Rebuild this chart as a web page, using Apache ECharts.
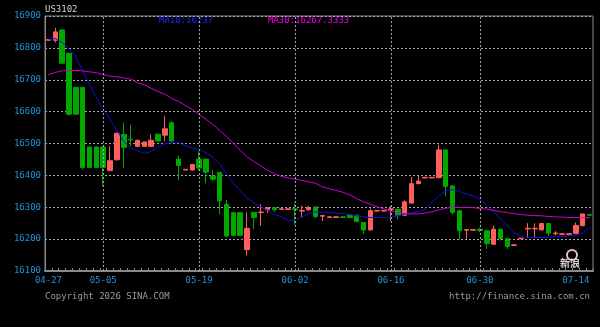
<!DOCTYPE html>
<html>
<head>
<meta charset="utf-8">
<script src="https://cdn.jsdelivr.net/npm/echarts@6/dist/echarts.min.js"></script>
<style>
html,body{margin:0;padding:0;background:#000;}
#c{width:600px;height:327px;}
</style>
</head>
<body>
<div id="c"></div>
<script>
const symbolName = 'US3102';
const ma10Label = 'MA10:16237';
const ma30Label = 'MA30:16267.3333';
const copyrightText = 'Copyright 2026 SINA.COM';
const urlText = 'http://finance.sina.com.cn';

const dates = [
'04-27','04-28','04-29','04-30',
'05-01','05-02','05-03','05-04','05-05','05-06','05-07','05-08','05-09','05-10',
'05-11','05-12','05-13','05-14','05-15','05-16','05-17','05-18','05-19','05-20',
'05-21','05-22','05-23','05-24','05-25','05-26','05-27','05-28','05-29','05-30','05-31',
'06-01','06-02','06-03','06-04','06-05','06-06','06-07','06-08','06-09','06-10',
'06-11','06-12','06-13','06-14','06-15','06-16','06-17','06-18','06-20',
'06-21','06-22','06-23','06-24','06-25','06-26','06-27','06-28','06-29','06-30',
'07-01','07-02','07-03','07-04','07-05','07-06','07-07','07-08','07-09','07-10',
'07-11','07-12','07-13','07-14','07-15','07-16'
];

const tickLabels = ['04-27','05-05','05-19','06-02','06-16','06-30','07-14'];
const gridDates = ['05-05','05-19','06-02','06-16','06-30'];

const yMin = 16100, yMax = 16900, yStep = 100;

// [open, close, low, high]
const candles = [
[16824,16826,16822,16828],[16824,16850,16817,16863],[16856,16752,16750,16858],[16783,16592,16587,16785],
[16676,16592,16590,16677],[16676,16425,16418,16677],[16489,16425,16424,16490],[16489,16425,16424,16490],
[16489,16425,16366,16490],[16415,16446,16413,16491],[16449,16532,16447,16535],[16528,16488,16423,16566],
[16513,16511,16491,16559],[16491,16510,16489,16512],[16491,16505,16490,16506],[16491,16510,16490,16528],
[16529,16508,16506,16531],[16526,16546,16508,16586],[16565,16508,16505,16570],[16451,16431,16385,16461],
[16417,16419,16416,16420],[16417,16434,16415,16436],[16451,16423,16415,16476],[16451,16410,16375,16452],
[16398,16388,16383,16418],[16409,16320,16278,16410],[16309,16210,16205,16323],[16283,16212,16210,16285],
[16283,16212,16210,16285],[16167,16234,16148,16284],[16284,16268,16231,16285],[16283,16285,16242,16309],
[16292,16299,16282,16300],[16299,16292,16284,16300],[16293,16295,16292,16296],[16293,16295,16292,16296],
[16295,16293,16244,16312],[16288,16290,16268,16305],[16292,16299,16290,16304],[16301,16271,16265,16302],
[16272,16274,16257,16275],[16268,16270,16267,16271],[16268,16270,16267,16271],[16270,16268,16267,16271],
[16276,16268,16266,16277],[16275,16255,16253,16276],[16252,16229,16216,16253],[16229,16289,16227,16296],
[16288,16290,16287,16291],[16288,16290,16287,16291],[16293,16295,16257,16304],[16294,16275,16263,16295],
[16275,16317,16273,16322],[16313,16374,16311,16395],[16374,16382,16372,16398],[16392,16394,16391,16395],
[16392,16394,16391,16395],[16393,16480,16390,16497],[16480,16365,16335,16482],[16367,16284,16278,16368],
[16289,16226,16200,16290],[16228,16230,16200,16231],[16228,16230,16227,16231],[16231,16227,16222,16235],
[16226,16186,16169,16228],[16184,16231,16182,16242],[16231,16202,16195,16232],[16202,16177,16169,16203],
[16180,16182,16179,16183],[16201,16203,16200,16204],[16232,16234,16203,16250],[16232,16234,16203,16250],
[16229,16249,16228,16250],[16249,16219,16210,16250],[16217,16219,16212,16225],[16215,16217,16214,16218],
[16215,16217,16214,16218],[16218,16243,16217,16252],[16242,16279,16241,16280],[16277,16275,16274,16278]
];

const ma10 = [
16827,16829,16817,16798,16773,16727,16685,16644,16607,16576,16541,16507,16486,16477,16469,16475,
16489,16499,16503,16502,16493,16486,16482,16471,16457,16436,16405,16375,16352,16328,16313,16302,
16291,16277,16270,16258,16260,16269,16280,16285,16285,16284,16282,16280,16277,16273,16270,16268,
16268,16268,16269,16273,16278,16283,16286,16294,16316,16336,16352,16355,16350,16342,16336,16325,
16306,16286,16264,16241,16220,16209,16205,16205,16205,16206,16207,16208,16211,16213,16219,16237
];

const ma30 = [
16716,16723,16728,16729,16729,16728,16725,16722,16716,16711,16709,16706,16702,16691,16684,16673,
16663,16655,16641,16632,16619,16607,16591,16576,16560,16541,16522,16500,16479,16458,16443,16430,
16416,16405,16397,16392,16388,16384,16380,16375,16364,16358,16353,16347,16339,16327,16317,16310,
16301,16295,16289,16283,16280,16279,16279,16282,16286,16292,16297,16299,16299,16299,16299,16296,
16294,16290,16286,16283,16280,16277,16275,16274,16273,16271,16270,16269,16268,16268,16267,16267.33
];

const upColor = '#ff5e5e';
const downColor = '#00a800';
const labelBlue = '#2590d8';
const monoFont = '"DejaVu Sans Mono", "Liberation Mono", monospace';

const chart = echarts.init(document.getElementById('c'), null, {renderer: 'canvas'});
chart.setOption({
  backgroundColor: '#000',
  animation: false,
  grid: {left: 45, right: 7, top: 16, bottom: 56, show: true, borderColor: '#8a8a8a', borderWidth: 1, backgroundColor: 'transparent'},
  xAxis: {
    type: 'category',
    data: dates,
    boundaryGap: true,
    axisLine: {show: true, lineStyle: {color: '#8a8a8a', width: 2}},
    axisTick: {show: true, inside: true, length: 3, interval: 0, lineStyle: {color: '#8a8a8a'}},
    axisLabel: {
      show: true,
      interval: (i, v) => tickLabels.indexOf(v) >= 0,
      color: labelBlue, fontFamily: monoFont, fontSize: 9, margin: 5
    },
    splitLine: {show: false}
  },
  yAxis: {
    type: 'value', min: yMin, max: yMax, interval: yStep,
    axisLine: {show: true, lineStyle: {color: '#8a8a8a', width: 1}},
    axisTick: {show: false},
    axisLabel: {color: labelBlue, fontFamily: monoFont, fontSize: 9, margin: 4, formatter: v => String(v)},
    splitLine: {show: true, lineStyle: {color: '#a8a8a8', type: [2, 2], width: 1}}
  },
  graphic: [
    {type: 'text', left: 45, top: 5, style: {text: symbolName, fill: '#d0d0d0', font: '9px ' + monoFont}},
    {type: 'text', left: 159, top: 16, style: {text: ma10Label, fill: '#2222ff', font: '9px ' + monoFont}},
    {type: 'text', left: 268, top: 16, style: {text: ma30Label, fill: '#ee00ee', font: '9px ' + monoFont}},
    {type: 'text', left: 45, top: 292, style: {text: copyrightText, fill: '#9a9a9a', font: '9px ' + monoFont}},
    {type: 'text', right: 10, top: 292, style: {text: urlText, fill: '#9a9a9a', font: '9px ' + monoFont}},
    {type: 'circle', shape: {cx: 572, cy: 255, r: 5}, style: {fill: 'none', stroke: '#f3b8c4', lineWidth: 2}},
    {type: 'text', left: 560, top: 258, style: {text: '新浪', fill: '#d8d8d8', font: 'bold 10px "Noto Sans CJK SC"'}}
  ],
  series: [
    {
      type: 'candlestick',
      data: candles,
      barWidth: 5,
      itemStyle: {color: upColor, color0: downColor, borderColor: upColor, borderColor0: downColor, borderWidth: 1},
      markLine: {
        silent: true,
        symbol: ['none', 'none'],
        label: {show: false},
        lineStyle: {color: '#a8a8a8', type: [2, 2], width: 1},
        data: gridDates.map(d => ({xAxis: d}))
      }
    },
    {type: 'line', data: ma10, showSymbol: false, symbol: 'none', lineStyle: {color: '#1010e0', width: 1}, z: 3},
    {type: 'line', data: ma30, showSymbol: false, symbol: 'none', lineStyle: {color: '#d000d0', width: 1}, z: 3}
  ]
});
</script>
</body>
</html>
